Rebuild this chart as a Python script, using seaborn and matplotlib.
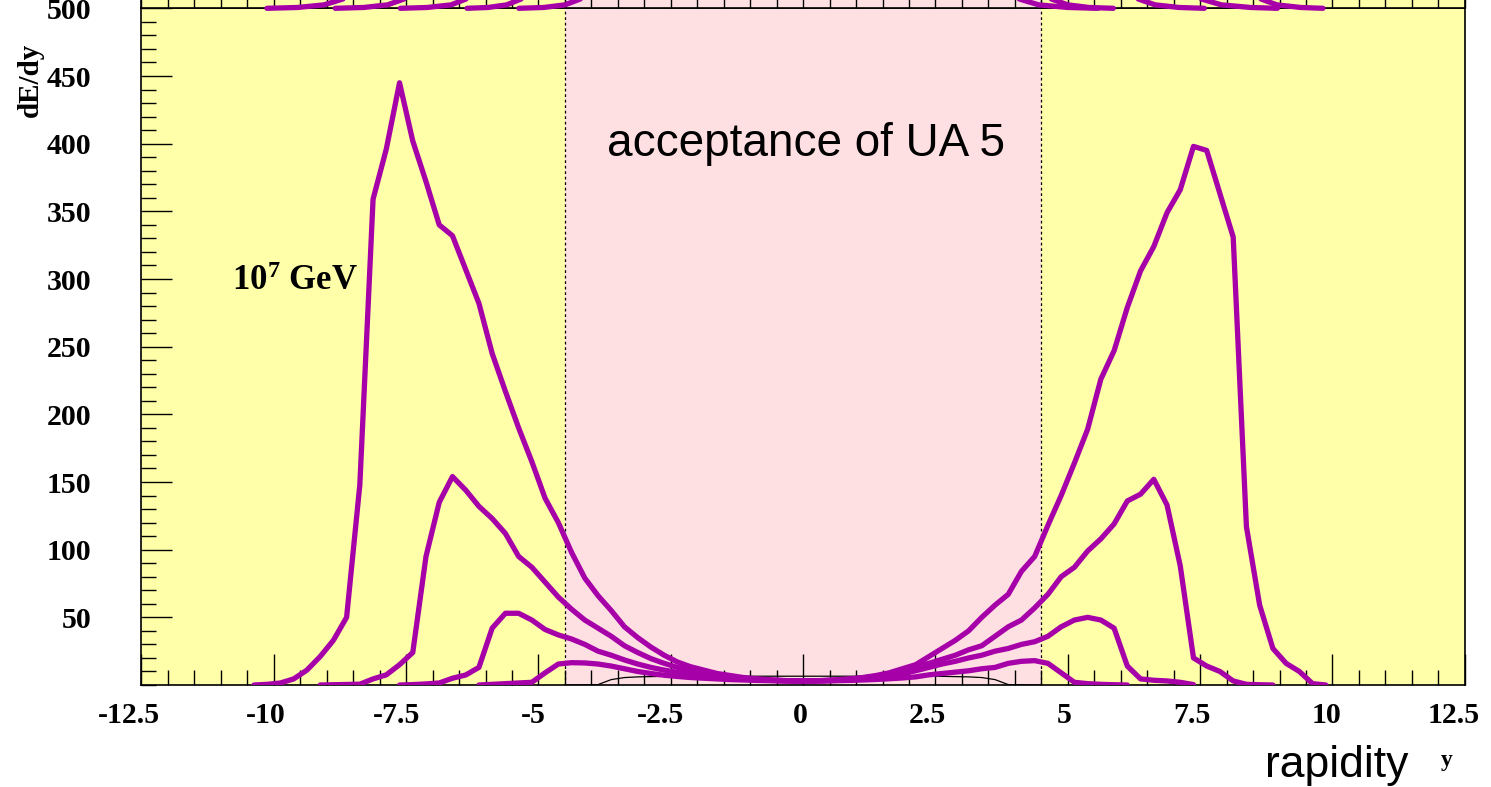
import numpy as np
import pandas as pd
import matplotlib
matplotlib.use("Agg")
import matplotlib.pyplot as plt
import matplotlib.transforms as mtransforms
import seaborn as sns
from matplotlib.ticker import MultipleLocator

# ---------------- data ----------------
xA = [-10.375, -10.125, -9.875, -9.625, -9.375, -9.125, -8.875, -8.625, -8.375, -8.125,
      -7.875, -7.625, -7.375, -7.125, -6.875, -6.625, -6.375, -6.125, -5.875, -5.625,
      -5.375, -5.125, -4.875, -4.625, -4.375, -4.125, -3.875, -3.625, -3.375, -3.125,
      -2.875, -2.625, -2.375, -2.125, -1.875, -1.625, -1.375, -1.125, -0.875, -0.625,
      -0.375, -0.125, 0.125, 0.375, 0.625, 0.875, 1.125, 1.375, 1.625, 1.875,
      2.125, 2.375, 2.625, 2.875, 3.125, 3.375, 3.625, 3.875, 4.125, 4.375,
      4.625, 4.875, 5.125, 5.375, 5.625, 5.875, 6.125, 6.375, 6.625, 6.875,
      7.125, 7.375, 7.625, 7.875, 8.125, 8.375, 8.625, 8.875, 9.125, 9.375,
      9.625, 9.875]
yA = [0, 0.5, 1.5, 4.5, 11, 21, 33, 50, 148, 359,
      396, 445, 402, 372, 340, 332, 307, 282, 245, 217,
      190, 165, 138, 120, 98, 79, 66, 55, 43, 35,
      28, 22, 17, 13.5, 11, 8.5, 7, 5.5, 4.5, 3.8,
      3.3, 3, 3, 3.3, 3.8, 4.5, 5.5, 7, 9, 12,
      15, 21, 27, 33, 40, 50, 59, 67, 84, 95,
      118, 140, 164, 189, 226, 247, 279, 306, 324, 349,
      366, 398, 395, 363, 331, 117, 59, 27, 16, 10,
      1, 0]

xB = [-9.125, -8.875, -8.625, -8.375, -8.125, -7.875, -7.625, -7.375, -7.125, -6.875,
      -6.625, -6.375, -6.125, -5.875, -5.625, -5.375, -5.125, -4.875, -4.625, -4.375,
      -4.125, -3.875, -3.625, -3.375, -3.125, -2.875, -2.625, -2.375, -2.125, -1.875,
      -1.625, -1.375, -1.125, -0.875, -0.625, -0.375, -0.125, 0.125, 0.375, 0.625,
      0.875, 1.125, 1.375, 1.625, 1.875, 2.125, 2.375, 2.625, 2.875, 3.125,
      3.375, 3.625, 3.875, 4.125, 4.375, 4.625, 4.875, 5.125, 5.375, 5.625,
      5.875, 6.125, 6.375, 6.625, 6.875, 7.125, 7.375, 7.625, 7.875, 8.125,
      8.375, 8.625, 8.875]
yB = [0, 0.2, 0.4, 0.6, 4.5, 7.5, 15, 24, 95, 135,
      154, 144, 132, 123, 112, 95, 87, 76, 65, 56,
      48, 42, 36, 29, 24, 19.5, 16, 13, 11, 9,
      7.5, 6, 5, 4.3, 3.7, 3.3, 3, 3, 3.3, 3.7,
      4.3, 5.2, 6.5, 8, 11, 13.5, 16, 19, 22, 26,
      29, 36, 43, 48, 57, 67, 80, 87, 99, 108,
      119, 136, 141, 152, 133, 88, 20, 14, 10, 3,
      0.5, 0.2, 0]

xC = [-7.625, -7.375, -7.125, -6.875, -6.625, -6.375, -6.125, -5.875, -5.625, -5.375,
      -5.125, -4.875, -4.625, -4.375, -4.125, -3.875, -3.625, -3.375, -3.125, -2.875,
      -2.625, -2.375, -2.125, -1.875, -1.625, -1.375, -1.125, -0.875, -0.625, -0.375,
      -0.125, 0.125, 0.375, 0.625, 0.875, 1.125, 1.375, 1.625, 1.875, 2.125,
      2.375, 2.625, 2.875, 3.125, 3.375, 3.625, 3.875, 4.125, 4.375, 4.625,
      4.875, 5.125, 5.375, 5.625, 5.875, 6.125, 6.375, 6.625, 6.875, 7.125,
      7.375]
yC = [0, 0.3, 0.8, 1.5, 5, 7.4, 13, 42, 53, 53,
      48, 41, 37, 34, 30, 25, 22, 18.5, 15.5, 13,
      11, 9.3, 8, 6.8, 5.8, 5, 4.3, 3.8, 3.4, 3.1,
      3, 3, 3.1, 3.4, 3.9, 4.6, 5.5, 6.8, 8.5, 10.5,
      13, 15.5, 17.5, 20, 22, 25, 27, 30, 32, 36,
      43, 48, 50, 48, 42, 14, 4.5, 3.5, 3, 2,
      0.3]

xD = [-6.125, -5.875, -5.625, -5.375, -5.125, -4.875, -4.625, -4.375, -4.125, -3.875,
      -3.625, -3.375, -3.125, -2.875, -2.625, -2.375, -2.125, -1.875, -1.625, -1.375,
      -1.125, -0.875, -0.625, -0.375, -0.125, 0.125, 0.375, 0.625, 0.875, 1.125,
      1.375, 1.625, 1.875, 2.125, 2.375, 2.625, 2.875, 3.125, 3.375, 3.625,
      3.875, 4.125, 4.375, 4.625, 4.875, 5.125, 5.375, 5.625, 5.875, 6.125]
yD = [0, 0.5, 1, 1.5, 2, 9, 15.5, 16.5, 16.3, 15.5,
      14, 12, 10, 8.5, 7.2, 6.3, 5.5, 5, 4.5, 4,
      3.7, 3.4, 3.2, 3, 3, 3, 3, 3.2, 3.4, 3.7,
      4.1, 4.6, 5.2, 6, 7.5, 8.5, 9.5, 10.5, 12, 13,
      16, 17.5, 18, 16, 9, 2, 1, 0.5, 0.2, 0]

# thin black reference curve near the bottom
x_ref = [-4.5, -3.875, -3.625, -3.375, -3.125, -2.5, -1.5, 0, 1.5, 2.5, 3.125, 3.375, 3.625, 3.875, 4.5]
y_ref = [0, 0.3, 4, 5.5, 6, 6.5, 6.5, 6.5, 6.5, 6.5, 6, 5.5, 4, 0.3, 0]

# tails of the curves of the panel above (visible strip at the top)
top_tail_x = [[-10.13, -9.55, -9.05, -8.67], [-8.84, -8.3, -7.85, -7.52],
              [-7.61, -7.1, -6.65, -6.35], [-6.35, -5.95, -5.6, -5.31],
              [-5.37, -4.9, -4.5, -4.19],
              [4.06, 4.45, 5.0, 5.57], [4.67, 5.0, 5.4, 5.86],
              [6.31, 6.65, 7.1, 7.58], [7.5, 7.9, 8.45, 8.96], [8.63, 8.95, 9.4, 9.82]]
top_tail_y = [[0, 0.6, 2.5, 7]] * 5 + [[7, 2.5, 0.6, 0]] * 5

acc_lo, acc_hi = -4.5, 4.5
x_ticks = [-12.5, -10, -7.5, -5, -2.5, 0, 2.5, 5, 7.5, 10, 12.5]
x_ticklabels = ["-12.5", "-10", "-7.5", "-5", "-2.5", "0", "2.5", "5", "7.5", "10", "12.5"]
y_ticks = [50, 100, 150, 200, 250, 300, 350, 400, 450, 500]
y_ticklabels = ["50", "100", "150", "200", "250", "300", "350", "400", "450", "500"]

# ---------------- style ----------------
YELLOW = "#FFFFAA"
PINK = "#FFE0E2"
MAGENTA = "#A600A8"

sns.set_theme(style="ticks")
plt.rcParams["font.family"] = ["Liberation Serif", "DejaVu Serif"]
plt.rcParams["text.color"] = "black"
plt.rcParams["xtick.labelcolor"] = "black"
plt.rcParams["ytick.labelcolor"] = "black"
plt.rcParams["mathtext.fontset"] = "custom"
plt.rcParams["mathtext.rm"] = "Liberation Serif:bold"
plt.rcParams["mathtext.bf"] = "Liberation Serif:bold"

frames = []
for name, xs, ys in [("A", xA, yA), ("B", xB, yB), ("C", xC, yC), ("D", xD, yD)]:
    frames.append(pd.DataFrame({"y": xs, "dEdy": ys, "curve": name}))
df = pd.concat(frames, ignore_index=True)

fig = plt.figure(figsize=(14.91, 7.87), dpi=100)
ax = fig.add_axes([0.0949, 0.1296, 0.8875, 0.8598])
ax_top = fig.add_axes([0.0949, 0.98945, 0.8875, 0.01055])

for a in (ax, ax_top):
    a.set_facecolor(YELLOW)
    a.axvspan(acc_lo, acc_hi, color=PINK, lw=0, zorder=0)
    for xv in (acc_lo, acc_hi):
        a.axvline(xv, color="black", lw=0.9, ls=(0, (2.2, 2.2)), zorder=1)
    a.set_xlim(-12.5, 12.5)
    for s in a.spines.values():
        s.set_color("black")
        s.set_linewidth(1.2)

sns.lineplot(x=x_ref, y=y_ref, color="black", lw=0.9, sort=False, estimator=None, ax=ax, zorder=2)
sns.lineplot(data=df, x="y", y="dEdy", hue="curve", units="curve",
             palette={k: MAGENTA for k in "ABCD"}, sort=False, estimator=None,
             lw=3.8, legend=False, ax=ax, zorder=3)

ax.set_ylim(0, 500)
ax.set_xticks(x_ticks)
ax.set_xticklabels([])
ax.set_yticks(y_ticks)
ax.set_yticklabels(y_ticklabels)
ax.xaxis.set_minor_locator(MultipleLocator(0.5))
ax.yaxis.set_minor_locator(MultipleLocator(10))
ax.tick_params(axis="both", which="both", direction="in", color="black", width=1)
ax.tick_params(axis="both", which="major", length=22)
ax.tick_params(axis="both", which="minor", length=11)
ax.tick_params(axis="y", which="major", pad=36, labelsize=21.5)
for lab in ax.get_yticklabels():
    lab.set_fontweight("bold")
    lab.set_fontfamily("Liberation Serif")
ax.set_xlabel("")
ax.set_ylabel("")

# x tick labels (ROOT style: anchored ~30% into the label width)
fig.canvas.draw()
renderer = fig.canvas.get_renderer()
xlab_trans = mtransforms.blended_transform_factory(ax.transData, ax.transAxes)
for xv, lab in zip(x_ticks, x_ticklabels):
    t = ax.text(xv, 0, lab, transform=xlab_trans, ha="center", va="top", fontsize=21.5,
                fontweight="bold", family="Liberation Serif", color="black", clip_on=False)
    w = t.get_window_extent(renderer).width
    t.set_transform(xlab_trans + mtransforms.ScaledTranslation(-0.21 * w / 100.0, -17 / 100.0,
                                                               fig.dpi_scale_trans))

# upper panel strip
for xs, ys in zip(top_tail_x, top_tail_y):
    sns.lineplot(x=xs, y=ys, color=MAGENTA, lw=3.8, sort=False, estimator=None, ax=ax_top,
                 zorder=3, clip_on=False)
ax_top.set_ylim(0, 6)
ax_top.set_yticks([])
ax_top.set_xticks(x_ticks)
ax_top.xaxis.set_minor_locator(MultipleLocator(0.5))
ax_top.tick_params(axis="x", which="both", direction="in", length=22, color="black",
                   width=1, labelbottom=False)
ax_top.spines["top"].set_visible(False)
ax_top.set_xlabel("")
ax_top.set_ylabel("")

# texts
ax.text(0.05, 400, "acceptance of UA 5", ha="center", va="center", fontsize=33,
        family="Liberation Sans")
ax.text(-10.79, 298, r"$\mathbf{10^{7}}$ GeV", ha="left", va="center", fontsize=25,
        fontweight="bold", family="Liberation Serif")
fig.text(0.8967, 0.027, "rapidity", ha="center", va="center", fontsize=32,
         family="Liberation Sans")
fig.text(0.9705, 0.0343, "y", ha="center", va="center", fontsize=17, fontweight="bold",
         family="Liberation Serif")
fig.text(0.0201, 0.898, "dE/dy", ha="center", va="center", rotation=90, fontsize=21,
         fontweight="bold", family="Liberation Serif")

fig.savefig("out.png", dpi=100)
